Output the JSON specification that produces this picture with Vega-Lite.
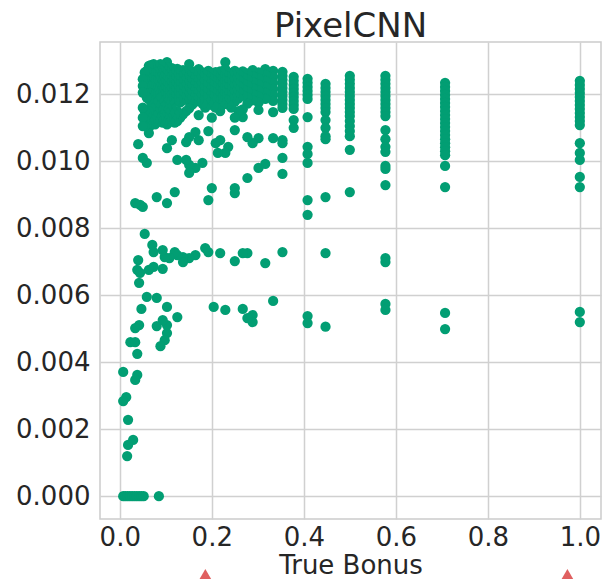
{
"$schema":"https://vega.github.io/schema/vega-lite/v6.json",
"width":501,"height":477,
"autosize":{"type":"none"},
"padding":{"left":100,"top":42,"right":2,"bottom":60},
"background":"white",
"title":{"text":"PixelCNN","fontSize":34,"fontWeight":"normal","color":"#262626","font":"DejaVu Sans","offset":-2},
"config":{"font":"DejaVu Sans","view":{"stroke":"#cccccc","strokeWidth":1.5},
"axis":{"grid":true,"gridColor":"#d0d0d0","gridWidth":1.5,"domain":false,"ticks":false,"labelFontSize":26,"labelColor":"#262626","titleFontSize":26,"titleColor":"#262626","titleFontWeight":"normal","labelPadding":10,"labelFont":"DejaVu Sans","titleFont":"DejaVu Sans"}},
"datasets":{
"marks":[{"x":0.186,"y":-0.00256},{"x":0.973,"y":-0.00256}],
"pts":[
{"x":1,"y":0.0124},{"x":1,"y":0.01228},{"x":1,"y":0.01216},{"x":1,"y":0.01204},{"x":1,"y":0.01192},{"x":1,"y":0.0118},{"x":1,"y":0.01168},{"x":1,"y":0.01156},{"x":1,"y":0.01144},{"x":1,"y":0.01132},{"x":1,"y":0.0112},{"x":1,"y":0.01108},{"x":1,"y":0.01054},{"x":1,"y":0.01025},{"x":1,"y":0.01004},{"x":1,"y":0.00953},{"x":1,"y":0.00923},{"x":1,"y":0.0055},{"x":1,"y":0.0052},
{"x":0.7071,"y":0.01234},{"x":0.7071,"y":0.01222},{"x":0.7071,"y":0.0121},{"x":0.7071,"y":0.01198},{"x":0.7071,"y":0.01186},{"x":0.7071,"y":0.01174},{"x":0.7071,"y":0.01162},{"x":0.7071,"y":0.0115},{"x":0.7071,"y":0.01138},{"x":0.7071,"y":0.01126},{"x":0.7071,"y":0.01114},{"x":0.7071,"y":0.01102},{"x":0.7071,"y":0.0109},{"x":0.7071,"y":0.01078},{"x":0.7071,"y":0.01066},{"x":0.7071,"y":0.01054},{"x":0.7071,"y":0.01042},{"x":0.7071,"y":0.0103},{"x":0.7071,"y":0.01018},{"x":0.7071,"y":0.00986},{"x":0.7071,"y":0.00923},{"x":0.7071,"y":0.00547},{"x":0.7071,"y":0.00499},
{"x":0.5774,"y":0.01255},{"x":0.5774,"y":0.01243},{"x":0.5774,"y":0.01231},{"x":0.5774,"y":0.01219},{"x":0.5774,"y":0.01207},{"x":0.5774,"y":0.01195},{"x":0.5774,"y":0.01183},{"x":0.5774,"y":0.01171},{"x":0.5774,"y":0.01159},{"x":0.5774,"y":0.01147},{"x":0.5774,"y":0.01135},{"x":0.5774,"y":0.01093},{"x":0.5774,"y":0.01066},{"x":0.5774,"y":0.01043},{"x":0.5774,"y":0.01028},{"x":0.5774,"y":0.00986},{"x":0.5774,"y":0.00977},{"x":0.5774,"y":0.00929},{"x":0.5774,"y":0.00711},{"x":0.5774,"y":0.00699},{"x":0.5774,"y":0.00574},{"x":0.5774,"y":0.00556},
{"x":0.5,"y":0.01255},{"x":0.5,"y":0.01243},{"x":0.5,"y":0.01231},{"x":0.5,"y":0.01219},{"x":0.5,"y":0.01207},{"x":0.5,"y":0.01195},{"x":0.5,"y":0.01183},{"x":0.5,"y":0.01171},{"x":0.5,"y":0.01159},{"x":0.5,"y":0.01147},{"x":0.5,"y":0.01135},{"x":0.5,"y":0.0112},{"x":0.5,"y":0.01105},{"x":0.5,"y":0.0109},{"x":0.5,"y":0.01075},{"x":0.5,"y":0.01034},{"x":0.5,"y":0.00908},
{"x":0.4472,"y":0.01231},{"x":0.4472,"y":0.01219},{"x":0.4472,"y":0.01207},{"x":0.4472,"y":0.01195},{"x":0.4472,"y":0.01183},{"x":0.4472,"y":0.01171},{"x":0.4472,"y":0.01159},{"x":0.4472,"y":0.01147},{"x":0.4472,"y":0.01123},{"x":0.4472,"y":0.011},{"x":0.4472,"y":0.01075},{"x":0.4472,"y":0.01066},{"x":0.4472,"y":0.00893},{"x":0.4472,"y":0.00726},{"x":0.4472,"y":0.00506},
{"x":0.4082,"y":0.01246},{"x":0.4082,"y":0.01234},{"x":0.4082,"y":0.01222},{"x":0.4082,"y":0.0121},{"x":0.4082,"y":0.01198},{"x":0.4082,"y":0.01186},{"x":0.4082,"y":0.01132},{"x":0.4082,"y":0.01043},{"x":0.4082,"y":0.01022},{"x":0.4082,"y":0.00995},{"x":0.4082,"y":0.00884},{"x":0.4082,"y":0.0084},{"x":0.4082,"y":0.00538},{"x":0.4082,"y":0.00517},
{"x":0.378,"y":0.01252},{"x":0.378,"y":0.0124},{"x":0.378,"y":0.01228},{"x":0.378,"y":0.01216},{"x":0.378,"y":0.01204},{"x":0.378,"y":0.01192},{"x":0.378,"y":0.0118},{"x":0.378,"y":0.01168},{"x":0.378,"y":0.01156},{"x":0.378,"y":0.01123},{"x":0.378,"y":0.011},
{"x":0.3536,"y":0.01267},{"x":0.3536,"y":0.01255},{"x":0.3536,"y":0.01243},{"x":0.3536,"y":0.01231},{"x":0.3536,"y":0.01219},{"x":0.3536,"y":0.01207},{"x":0.3536,"y":0.01195},{"x":0.3536,"y":0.01183},{"x":0.3536,"y":0.01171},{"x":0.3536,"y":0.01159},{"x":0.3536,"y":0.01063},{"x":0.3536,"y":0.01054},{"x":0.3536,"y":0.0101},{"x":0.3536,"y":0.00962},{"x":0.3536,"y":0.00729},
{"x":0.3333,"y":0.0127},{"x":0.3333,"y":0.01252},{"x":0.3333,"y":0.01234},{"x":0.3333,"y":0.01216},{"x":0.3333,"y":0.01198},{"x":0.3333,"y":0.0118},{"x":0.3333,"y":0.01147},{"x":0.3333,"y":0.01069},{"x":0.3333,"y":0.00583},
{"x":0.3162,"y":0.01275},{"x":0.3162,"y":0.01258},{"x":0.3162,"y":0.0124},{"x":0.3162,"y":0.01222},{"x":0.3162,"y":0.01204},{"x":0.3162,"y":0.01186},{"x":0.3162,"y":0.00992},{"x":0.3162,"y":0.00696},
{"x":0.3015,"y":0.01265},{"x":0.3015,"y":0.01247},{"x":0.3015,"y":0.01229},{"x":0.3015,"y":0.01211},{"x":0.3015,"y":0.01193},{"x":0.3015,"y":0.01175},{"x":0.3015,"y":0.01153},{"x":0.3015,"y":0.01069},{"x":0.3015,"y":0.0098},
{"x":0.2887,"y":0.01272},{"x":0.2887,"y":0.01254},{"x":0.2887,"y":0.01236},{"x":0.2887,"y":0.01218},{"x":0.2887,"y":0.012},{"x":0.2887,"y":0.01182},{"x":0.2887,"y":0.01054},{"x":0.2887,"y":0.00541},{"x":0.2887,"y":0.0052},
{"x":0.2774,"y":0.01262},{"x":0.2774,"y":0.01244},{"x":0.2774,"y":0.01226},{"x":0.2774,"y":0.01208},{"x":0.2774,"y":0.0119},{"x":0.2774,"y":0.01172},{"x":0.2774,"y":0.01072},{"x":0.2774,"y":0.0095},{"x":0.2774,"y":0.00532},{"x":0.2774,"y":0.00726},
{"x":0.2673,"y":0.01268},{"x":0.2673,"y":0.0125},{"x":0.2673,"y":0.01232},{"x":0.2673,"y":0.01214},{"x":0.2673,"y":0.01196},{"x":0.2673,"y":0.01155},{"x":0.2673,"y":0.01132},{"x":0.2673,"y":0.00726},{"x":0.2673,"y":0.00559},
{"x":0.2582,"y":0.0126},{"x":0.2582,"y":0.01242},{"x":0.2582,"y":0.01224},{"x":0.2582,"y":0.01206},{"x":0.2582,"y":0.01188},{"x":0.2582,"y":0.0115},
{"x":0.25,"y":0.0127},{"x":0.25,"y":0.01252},{"x":0.25,"y":0.01234},{"x":0.25,"y":0.01216},{"x":0.25,"y":0.01198},{"x":0.25,"y":0.01178},{"x":0.25,"y":0.0113},{"x":0.25,"y":0.01093},{"x":0.25,"y":0.0092},{"x":0.25,"y":0.00905},{"x":0.25,"y":0.00702},
{"x":0.2425,"y":0.01264},{"x":0.2425,"y":0.01246},{"x":0.2425,"y":0.01228},{"x":0.2425,"y":0.0121},{"x":0.2425,"y":0.01192},{"x":0.2425,"y":0.0116},
{"x":0.2357,"y":0.01262},{"x":0.2357,"y":0.01244},{"x":0.2357,"y":0.01226},{"x":0.2357,"y":0.01208},{"x":0.2357,"y":0.0119},{"x":0.2357,"y":0.0117},{"x":0.2357,"y":0.01043},
{"x":0.2294,"y":0.01296},{"x":0.2294,"y":0.01275},{"x":0.2294,"y":0.01256},{"x":0.2294,"y":0.01238},{"x":0.2294,"y":0.0122},{"x":0.2294,"y":0.01202},{"x":0.2294,"y":0.01185},{"x":0.2294,"y":0.01025},{"x":0.2294,"y":0.00556},
{"x":0.2236,"y":0.0126},{"x":0.2236,"y":0.01242},{"x":0.2236,"y":0.01224},{"x":0.2236,"y":0.01206},{"x":0.2236,"y":0.01188},{"x":0.2236,"y":0.01168},
{"x":0.2182,"y":0.01268},{"x":0.2182,"y":0.0125},{"x":0.2182,"y":0.01232},{"x":0.2182,"y":0.01214},{"x":0.2182,"y":0.01196},{"x":0.2182,"y":0.01178},{"x":0.2182,"y":0.0115},{"x":0.2182,"y":0.01063},{"x":0.2182,"y":0.00726},
{"x":0.2132,"y":0.01258},{"x":0.2132,"y":0.0124},{"x":0.2132,"y":0.01222},{"x":0.2132,"y":0.01204},{"x":0.2132,"y":0.01186},{"x":0.2132,"y":0.01025},
{"x":0.2085,"y":0.01266},{"x":0.2085,"y":0.01248},{"x":0.2085,"y":0.0123},{"x":0.2085,"y":0.01212},{"x":0.2085,"y":0.01194},{"x":0.2085,"y":0.0116},{"x":0.2085,"y":0.01054},
{"x":0.2041,"y":0.01256},{"x":0.2041,"y":0.01238},{"x":0.2041,"y":0.0122},{"x":0.2041,"y":0.01202},{"x":0.2041,"y":0.01184},{"x":0.2041,"y":0.01165},{"x":0.2041,"y":0.00565},
{"x":0.2,"y":0.01262},{"x":0.2,"y":0.01244},{"x":0.2,"y":0.01226},{"x":0.2,"y":0.01208},{"x":0.2,"y":0.0119},{"x":0.2,"y":0.0113},{"x":0.2,"y":0.0092},
{"x":0.1925,"y":0.0127},{"x":0.1925,"y":0.01252},{"x":0.1925,"y":0.01234},{"x":0.1925,"y":0.01216},{"x":0.1925,"y":0.01198},{"x":0.1925,"y":0.01175},{"x":0.1925,"y":0.0109},{"x":0.1925,"y":0.00884},{"x":0.1925,"y":0.00729},
{"x":0.1857,"y":0.01258},{"x":0.1857,"y":0.0124},{"x":0.1857,"y":0.01222},{"x":0.1857,"y":0.01204},{"x":0.1857,"y":0.01186},{"x":0.1857,"y":0.0116},{"x":0.1857,"y":0.00741},
{"x":0.1796,"y":0.01265},{"x":0.1796,"y":0.01247},{"x":0.1796,"y":0.01229},{"x":0.1796,"y":0.01211},{"x":0.1796,"y":0.01193},{"x":0.1796,"y":0.01172},{"x":0.1796,"y":0.00995},
{"x":0.1715,"y":0.01275},{"x":0.1715,"y":0.01256},{"x":0.1715,"y":0.01238},{"x":0.1715,"y":0.0122},{"x":0.1715,"y":0.01202},{"x":0.1715,"y":0.01184},{"x":0.1715,"y":0.01138},{"x":0.1715,"y":0.01063},
{"x":0.1644,"y":0.01268},{"x":0.1644,"y":0.0125},{"x":0.1644,"y":0.01232},{"x":0.1644,"y":0.01214},{"x":0.1644,"y":0.01196},{"x":0.1644,"y":0.01178},{"x":0.1644,"y":0.01087},{"x":0.1644,"y":0.0098},{"x":0.1644,"y":0.0072},
{"x":0.1581,"y":0.01262},{"x":0.1581,"y":0.01244},{"x":0.1581,"y":0.01226},{"x":0.1581,"y":0.01208},{"x":0.1581,"y":0.0119},{"x":0.1581,"y":0.0117},
{"x":0.1508,"y":0.0129},{"x":0.1508,"y":0.0127},{"x":0.1508,"y":0.01252},{"x":0.1508,"y":0.01234},{"x":0.1508,"y":0.01216},{"x":0.1508,"y":0.01198},{"x":0.1508,"y":0.0118},{"x":0.1508,"y":0.01158},{"x":0.1508,"y":0.01072},{"x":0.1508,"y":0.00989},{"x":0.1508,"y":0.00965},{"x":0.1508,"y":0.00711},
{"x":0.1443,"y":0.0126},{"x":0.1443,"y":0.01242},{"x":0.1443,"y":0.01224},{"x":0.1443,"y":0.01206},{"x":0.1443,"y":0.01188},{"x":0.1443,"y":0.0115},{"x":0.1443,"y":0.01057},{"x":0.1443,"y":0.01004},
{"x":0.1374,"y":0.01272},{"x":0.1374,"y":0.01254},{"x":0.1374,"y":0.01236},{"x":0.1374,"y":0.01218},{"x":0.1374,"y":0.012},{"x":0.1374,"y":0.01182},{"x":0.1374,"y":0.0114},{"x":0.1374,"y":0.00714},{"x":0.1374,"y":0.00699},
{"x":0.1313,"y":0.01266},{"x":0.1313,"y":0.01248},{"x":0.1313,"y":0.0123},{"x":0.1313,"y":0.01212},{"x":0.1313,"y":0.01194},{"x":0.1313,"y":0.01176},{"x":0.1313,"y":0.0113},
{"x":0.125,"y":0.01276},{"x":0.125,"y":0.01258},{"x":0.125,"y":0.0124},{"x":0.125,"y":0.01222},{"x":0.125,"y":0.01204},{"x":0.125,"y":0.01186},{"x":0.125,"y":0.0115},{"x":0.125,"y":0.0112},{"x":0.125,"y":0.01004},{"x":0.125,"y":0.0072},{"x":0.125,"y":0.00535},
{"x":0.1195,"y":0.01268},{"x":0.1195,"y":0.0125},{"x":0.1195,"y":0.01232},{"x":0.1195,"y":0.01214},{"x":0.1195,"y":0.01196},{"x":0.1195,"y":0.01178},{"x":0.1195,"y":0.0114},{"x":0.1195,"y":0.01115},{"x":0.1195,"y":0.00908},{"x":0.1195,"y":0.00729},
{"x":0.1132,"y":0.01278},{"x":0.1132,"y":0.0126},{"x":0.1132,"y":0.01242},{"x":0.1132,"y":0.01224},{"x":0.1132,"y":0.01206},{"x":0.1132,"y":0.01188},{"x":0.1132,"y":0.0116},{"x":0.1132,"y":0.0113},{"x":0.1132,"y":0.01063},
{"x":0.1078,"y":0.0127},{"x":0.1078,"y":0.01252},{"x":0.1078,"y":0.01234},{"x":0.1078,"y":0.01216},{"x":0.1078,"y":0.01198},{"x":0.1078,"y":0.0118},{"x":0.1078,"y":0.01145},{"x":0.1078,"y":0.01118},{"x":0.1078,"y":0.00711},
{"x":0.1026,"y":0.01296},{"x":0.1026,"y":0.0128},{"x":0.1026,"y":0.01262},{"x":0.1026,"y":0.01244},{"x":0.1026,"y":0.01226},{"x":0.1026,"y":0.01208},{"x":0.1026,"y":0.0119},{"x":0.1026,"y":0.0116},{"x":0.1026,"y":0.0113},{"x":0.1026,"y":0.0111},{"x":0.1026,"y":0.01039},{"x":0.1026,"y":0.00875},{"x":0.1026,"y":0.00565},{"x":0.1026,"y":0.00487},{"x":0.1026,"y":0.00511},
{"x":0.0976,"y":0.01272},{"x":0.0976,"y":0.01254},{"x":0.0976,"y":0.01236},{"x":0.0976,"y":0.01218},{"x":0.0976,"y":0.012},{"x":0.0976,"y":0.01182},{"x":0.0976,"y":0.0115},{"x":0.0976,"y":0.01125},{"x":0.0976,"y":0.00714},{"x":0.0976,"y":0.00466},
{"x":0.0933,"y":0.0128},{"x":0.0933,"y":0.01262},{"x":0.0933,"y":0.01244},{"x":0.0933,"y":0.01226},{"x":0.0933,"y":0.01208},{"x":0.0933,"y":0.0119},{"x":0.0933,"y":0.01165},{"x":0.0933,"y":0.01135},{"x":0.0933,"y":0.01115},{"x":0.0933,"y":0.00735},{"x":0.0933,"y":0.00679},{"x":0.0933,"y":0.00526},
{"x":0.0884,"y":0.0129},{"x":0.0884,"y":0.0127},{"x":0.0884,"y":0.01252},{"x":0.0884,"y":0.01234},{"x":0.0884,"y":0.01216},{"x":0.0884,"y":0.01198},{"x":0.0884,"y":0.0117},{"x":0.0884,"y":0.0114},{"x":0.0884,"y":0.0112},{"x":0.0884,"y":0.00448},
{"x":0.0845,"y":0.01276},{"x":0.0845,"y":0.01258},{"x":0.0845,"y":0.0124},{"x":0.0845,"y":0.01222},{"x":0.0845,"y":0.01204},{"x":0.0845,"y":0.01186},{"x":0.0845,"y":0.01155},{"x":0.0845,"y":0.0113},
{"x":0.0803,"y":0.01268},{"x":0.0803,"y":0.0125},{"x":0.0803,"y":0.01232},{"x":0.0803,"y":0.01214},{"x":0.0803,"y":0.01196},{"x":0.0803,"y":0.0116},{"x":0.0803,"y":0.01125},{"x":0.0803,"y":0.00893},{"x":0.0803,"y":0.00592},{"x":0.0803,"y":0.00508},
{"x":0.0767,"y":0.01285},{"x":0.0767,"y":0.01262},{"x":0.0767,"y":0.01244},{"x":0.0767,"y":0.01226},{"x":0.0767,"y":0.01208},{"x":0.0767,"y":0.0117},{"x":0.0767,"y":0.01135},{"x":0.0767,"y":0.0111},
{"x":0.0735,"y":0.0129},{"x":0.0735,"y":0.0127},{"x":0.0735,"y":0.0125},{"x":0.0735,"y":0.0123},{"x":0.0735,"y":0.0121},{"x":0.0735,"y":0.0115},{"x":0.0735,"y":0.0112},{"x":0.0735,"y":0.00729},{"x":0.0735,"y":0.00685},
{"x":0.0707,"y":0.0126},{"x":0.0707,"y":0.0124},{"x":0.0707,"y":0.0122},{"x":0.0707,"y":0.0118},{"x":0.0707,"y":0.0114},{"x":0.0707,"y":0.0075},
{"x":0.0674,"y":0.01287},{"x":0.0674,"y":0.01265},{"x":0.0674,"y":0.01245},{"x":0.0674,"y":0.01225},{"x":0.0674,"y":0.012},{"x":0.0674,"y":0.0116},{"x":0.0674,"y":0.01125},
{"x":0.0632,"y":0.01285},{"x":0.0632,"y":0.01265},{"x":0.0632,"y":0.01245},{"x":0.0632,"y":0.01225},{"x":0.0632,"y":0.01205},{"x":0.0632,"y":0.01185},{"x":0.0632,"y":0.0115},{"x":0.0632,"y":0.0112},{"x":0.0632,"y":0.011},{"x":0.0632,"y":0.01084},{"x":0.0632,"y":0.00676},
{"x":0.0587,"y":0.0127},{"x":0.0587,"y":0.0125},{"x":0.0587,"y":0.0123},{"x":0.0587,"y":0.0121},{"x":0.0587,"y":0.0119},{"x":0.0587,"y":0.0114},{"x":0.0587,"y":0.0111},{"x":0.0587,"y":0.00995},{"x":0.0587,"y":0.00595},
{"x":0.0542,"y":0.01265},{"x":0.0542,"y":0.01245},{"x":0.0542,"y":0.01225},{"x":0.0542,"y":0.01205},{"x":0.0542,"y":0.0115},{"x":0.0542,"y":0.01125},{"x":0.0542,"y":0.01105},{"x":0.0542,"y":0.00783},
{"x":0.05,"y":0.01245},{"x":0.05,"y":0.01225},{"x":0.05,"y":0.01205},{"x":0.05,"y":0.0116},{"x":0.05,"y":0.0113},{"x":0.05,"y":0.01105},{"x":0.05,"y":0.0101},{"x":0.05,"y":0.00864},
{"x":0.04,"y":0.01051},{"x":0.0443,"y":0.0087},{"x":0.0335,"y":0.00875},{"x":0.04,"y":0.00705},{"x":0.038,"y":0.00676},{"x":0.044,"y":0.00667},{"x":0.042,"y":0.00637},{"x":0.047,"y":0.00559},{"x":0.042,"y":0.00511},{"x":0.0335,"y":0.00502},{"x":0.023,"y":0.0046},{"x":0.0335,"y":0.0046},{"x":0.038,"y":0.00425},{"x":0.0074,"y":0.00371},{"x":0.038,"y":0.00362},{"x":0.0335,"y":0.00347},{"x":0.014,"y":0.00296},{"x":0.0074,"y":0.00284},{"x":0.018,"y":0.00228},{"x":0.029,"y":0.00168},{"x":0.018,"y":0.00153},{"x":0.016,"y":0.0012},
{"x":0.0074,"y":0},{"x":0.012,"y":0},{"x":0.017,"y":0},{"x":0.022,"y":0},{"x":0.027,"y":0},{"x":0.032,"y":0},{"x":0.037,"y":0},{"x":0.042,"y":0},{"x":0.047,"y":0},{"x":0.052,"y":0},{"x":0.085,"y":0}
]},
"layer":[
{"data":{"name":"pts"},
"mark":{"type":"circle","size":105,"opacity":1,"color":"#029e73"},
"encoding":{
"x":{"field":"x","type":"quantitative","scale":{"domain":[-0.043,1.046],"nice":false,"zero":false},"axis":{"title":"True Bonus","values":[0,0.2,0.4,0.6,0.8,1.0],"format":".1f","labelPadding":5,"titlePadding":2}},
"y":{"field":"y","type":"quantitative","scale":{"domain":[-0.00068,0.01356],"nice":false,"zero":false},"axis":{"title":null,"values":[0,0.002,0.004,0.006,0.008,0.01,0.012],"format":".3f"}}}},
{"data":{"name":"marks"},
"mark":{"type":"point","shape":"triangle-up","filled":true,"size":900,"color":"#e06060","opacity":1,"clip":false},
"encoding":{"x":{"field":"x","type":"quantitative"},"y":{"field":"y","type":"quantitative"}}}
]
}
